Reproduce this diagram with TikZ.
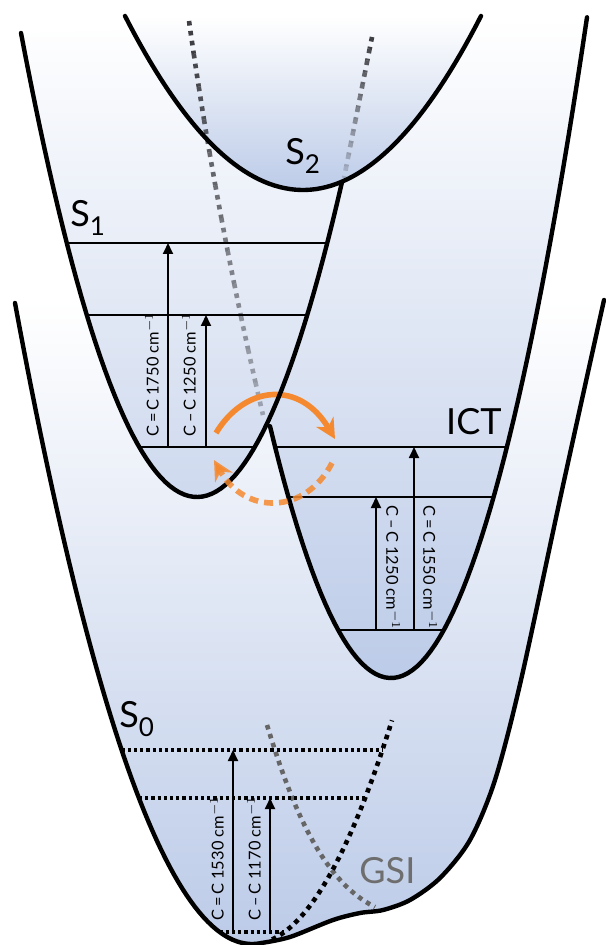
\documentclass[tikz,border=0pt]{standalone}
\usepackage{fontspec}
\setmainfont{Lato}
\usetikzlibrary{arrows.meta}
\definecolor{wellBlue}{HTML}{BCCBE8}
\definecolor{hopOrange}{HTML}{F5892F}
\definecolor{gsiGray}{HTML}{6E6E6E}
\definecolor{dotInk}{HTML}{2B2B30}
\newcommand{\stsub}[1]{\raisebox{-4.5pt}{\fontsize{13}{13}\selectfont #1}}
% potential curves, in pixel units
\newcommand{\SzeroPath}{plot[domain=15:262,samples=60] (\x,{944-641*((\x-252)/237)^2}) -- plot[smooth] coordinates {(262,942.9) (290,937) (333,920) (360,913) (383,910) (410,900) (440,878) (470,840) (495,780) (521,680) (562,490) (604,300)}}
\newcommand{\SonePath}{plot[domain=21:342,samples=70] (\x,{497-464*((\x-197)/176)^2})}
\newcommand{\ICTPath}{plot[domain=270:587,samples=70] (\x,{678-660*((\x-391)/195.9)^2})}
\newcommand{\StwoPath}{plot[domain=125:481,samples=70] (\x,{190-174*((\x-303)/178)^2})}

\begin{document}
\begin{tikzpicture}[x=0.5pt,y=-0.5pt]
  \tikzset{pes/.style={line width=2.2pt,line cap=round,line join=round},
    lvl/.style={line width=1.2pt},
    lvldot/.style={line width=1.6pt,dash pattern=on 1.6pt off 1.5pt},
    vib/.style={line width=0.9pt,-{Triangle[length=5.5pt,width=5pt]}},
    band/.style={font=\fontsize{8.2}{9.6}\selectfont,inner sep=0pt,anchor=west},
    tag/.style={font=\fontsize{18}{20}\selectfont,inner sep=0pt},
    dotline/.style={draw=dotInk,line width=2.3pt,dash pattern=on 2.3pt off 2.7pt},
    gsidot/.style={line width=2.3pt,dash pattern=on 2.3pt off 2.4pt},
    hop/.style={draw=hopOrange,line width=2.8pt,-{Stealth[length=10pt,width=10pt]}},
    well/.style={top color=white,bottom color=wellBlue}}
  \useasboundingbox (0,0) rectangle (605,945);
  % wells
  \shade[well] \SzeroPath -- cycle;
  \shade[well] plot[domain=21:266,samples=50] (\x,{497-464*((\x-197)/176)^2}) -- plot[domain=270:587,samples=60] (\x,{678-660*((\x-391)/195.9)^2}) -- cycle;
  \shade[well] \StwoPath -- cycle;
  % fading dotted crossings
  \foreach \i in {0,...,11}{
    \pgfmathsetmacro\ua{\i/12}\pgfmathsetmacro\ub{(\i+1)/12}
    \pgfmathsetmacro\opa{0.9-0.6*\ua}\pgfmathsetmacro\opb{0.9-0.75*\ua}
    \draw[dotline,draw opacity=\opa] plot[domain=\ua:\ub,samples=4] ({189+55.3*\x+18.7*\x*\x},{21+394*\x});
    \draw[dotline,draw opacity=\opb] plot[domain=\ua:\ub,samples=2] ({372-28*\x},{37+141*\x});
  }
  % ground state: harmonic and GSI
  \draw[gsidot,draw=black!60] (267,725) .. controls (290,800) and (320,880) .. (375,907);
  \draw[gsidot] plot[domain=272:392,samples=40] (\x,{944-641*((\x-252)/237)^2});
  % levels
  \foreach \xa/\xb/\y in {121.6/382.4/750, 139/365/798, 219.6/284.4/932}
    \draw[lvldot] (\xa,\y) -- (\xb,\y);
  \foreach \xa/\xb/\y in {66.8/327.2/243, 86.8/307.2/315, 139.2/254.8/447, 275.1/506.9/447, 288.4/493.6/497, 338.2/443.8/630}
    \draw[lvl] (\xa,\y) -- (\xb,\y);
  \foreach \x/\ya/\yb in {168/447/243, 206/447/315, 376/630/497, 414/630/447, 233/932/750, 270/932/798}
    \draw[vib] (\x,\ya) -- (\x,\yb);
  \node[band,rotate=90] (s1cc) at (152,437) {C\,=\,C 1750 cm$^{-1}$};
  \node[band,rotate=90] (s1c) at (189,437) {C\,–\,C 1250 cm$^{-1}$};
  \node[band,rotate=-90] (ictc) at (393,505) {C\,–\,C 1250 cm$^{-1}$};
  \node[band,rotate=-90] (ictcc) at (430,505) {C\,=\,C 1550 cm$^{-1}$};
  \node[band,rotate=90] (s0cc) at (217,921) {C\,=\,C 1530 cm$^{-1}$};
  \node[band,rotate=90] (s0c) at (254,921) {C\,–\,C 1170 cm$^{-1}$};
  % transfer arrows
  \coordinate (fwdA) at (216,433); \coordinate (fwdB) at (335,439);
  \coordinate (bckA) at (332,463); \coordinate (bckB) at (214,460);
  \draw[hop] (fwdA) .. controls (245,385) and (300,380) .. (fwdB);
  % curves
  \draw[pes] \SzeroPath;
  \draw[pes] \SonePath;
  \draw[pes] \ICTPath;
  \draw[pes] \StwoPath;
  \draw[hop,draw opacity=0.85,dash pattern=on 4.5pt off 3pt] (bckA) .. controls (305,515) and (245,515) .. (bckB);
  % labels
  \node[tag,anchor=base west] (s2) at (285,165) {S\stsub{2}};
  \node[tag,anchor=base west] (s1) at (70,227) {S\stsub{1}};
  \node[tag,anchor=base west] (s0) at (119,727) {S\stsub{0}};
  \node[tag,anchor=base east] (ict) at (502,435) {ICT};
  \node[tag,anchor=base west,text=gsiGray] (gsi) at (359,883) {GSI};
\end{tikzpicture}
\end{document}
